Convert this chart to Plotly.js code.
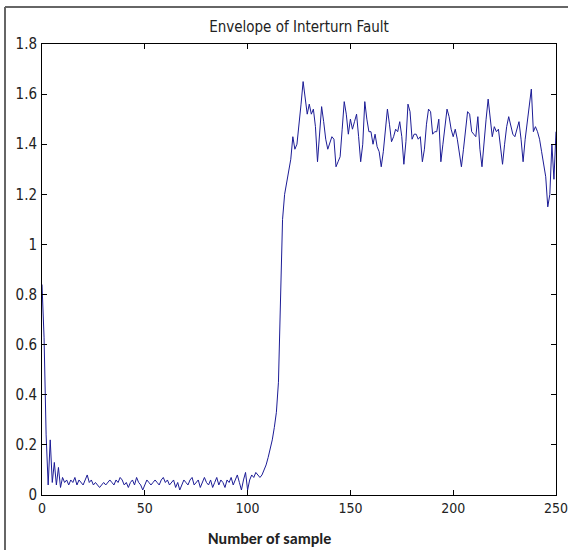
<!DOCTYPE html>
<html>
<head>
<meta charset="utf-8">
<script src="https://cdn.plot.ly/plotly-3.0.1.min.js"></script>
<style>
html,body{margin:0;padding:0;background:#fff;}
#chart{width:568px;height:550px;}
</style>
</head>
<body>
<div id="chart"></div>
<script>
// Envelope values, samples 0..250
const sampleIdx = [];
const envelope = [
  0.84, 0.63, 0.24, 0.04, 0.22, 0.05, 0.13, 0.04, 0.11, 0.03, 0.07,
  0.05, 0.06, 0.04, 0.06, 0.05, 0.07, 0.04, 0.06, 0.05, 0.04, 0.06, 0.08, 0.05, 0.06, 0.04, 0.05, 0.04, 0.03, 0.04, 0.05,
  0.04, 0.05, 0.06, 0.05, 0.04, 0.06, 0.05, 0.07, 0.06, 0.04, 0.05, 0.03, 0.05, 0.06, 0.04, 0.07, 0.05, 0.04, 0.02, 0.04,
  0.06, 0.05, 0.04, 0.05, 0.06, 0.05, 0.04, 0.06, 0.07, 0.05, 0.06, 0.04, 0.05, 0.06, 0.03, 0.05, 0.02, 0.04, 0.06, 0.05,
  0.04, 0.06, 0.07, 0.04, 0.05, 0.06, 0.03, 0.05, 0.07, 0.05, 0.04, 0.06, 0.03, 0.05, 0.07, 0.04, 0.06, 0.05, 0.03, 0.06,
  0.05, 0.07, 0.04, 0.06, 0.08, 0.05, 0.02, 0.06, 0.09, 0.02, 0.06, 0.08, 0.07, 0.09, 0.08,
  0.07, 0.08, 0.10, 0.12, 0.15, 0.18, 0.22, 0.27, 0.33, 0.45, 0.80, 1.10,
  1.20, 1.25, 1.30, 1.34, 1.43, 1.38, 1.40, 1.47, 1.56, 1.65, 1.59, 1.52, 1.56, 1.52, 1.54, 1.47, 1.33, 1.45, 1.55, 1.49,
  1.42, 1.38, 1.41, 1.43, 1.42, 1.31, 1.33, 1.35, 1.46, 1.57, 1.52, 1.44, 1.50, 1.46, 1.49, 1.52, 1.43, 1.33, 1.40, 1.57,
  1.50, 1.45, 1.45, 1.40, 1.44, 1.39, 1.37, 1.31, 1.37, 1.46, 1.54, 1.48, 1.41, 1.43, 1.46, 1.45, 1.49, 1.43, 1.32, 1.41,
  1.56, 1.53, 1.42, 1.44, 1.44, 1.42, 1.43, 1.33, 1.38, 1.48, 1.54, 1.53, 1.44, 1.45, 1.45, 1.50, 1.33, 1.40, 1.47, 1.54,
  1.51, 1.46, 1.43, 1.46, 1.42, 1.36, 1.31, 1.38, 1.46, 1.53, 1.52, 1.45, 1.44, 1.43, 1.51, 1.38, 1.31, 1.42, 1.50, 1.58,
  1.51, 1.43, 1.47, 1.45, 1.46, 1.38, 1.32, 1.40, 1.47, 1.51, 1.47, 1.44, 1.43, 1.46, 1.49, 1.42, 1.33, 1.42, 1.48, 1.55,
  1.62, 1.45, 1.47, 1.45, 1.42, 1.37, 1.31, 1.27, 1.15, 1.20, 1.40, 1.26, 1.45
];
for (let i = 0; i < envelope.length; i++) sampleIdx.push(i);

const xTickVals = [0, 50, 100, 150, 200, 250];
const xTickText = ['0', '50', '100', '150', '200', '250'];
const yTickVals = [0, 0.2, 0.4, 0.6, 0.8, 1, 1.2, 1.4, 1.6, 1.8];
const yTickText = ['0', '0.2', '0.4', '0.6', '0.8', '1', '1.2', '1.4', '1.6', '1.8'];

const chartTitle = 'Envelope of Interturn Fault';
const xLabel = 'Number of sample';

const narrow = '"Liberation Sans Narrow", "DejaVu Sans Condensed", "Arial Narrow", sans-serif';

const trace = {
  x: sampleIdx,
  y: envelope,
  type: 'scatter',
  mode: 'lines',
  line: {color: '#1c1c96', width: 1},
  hoverinfo: 'skip'
};

const axisCommon = {
  showgrid: false,
  zeroline: false,
  showline: true,
  linecolor: '#000',
  linewidth: 1,
  mirror: 'ticks',
  ticks: 'inside',
  ticklen: 5,
  tickwidth: 1,
  tickcolor: '#000',
  ticklabeloverflow: 'allow'
};

const layout = {
  width: 568,
  height: 550,
  margin: {l: 42, r: 12, t: 44, b: 55, pad: 0},
  paper_bgcolor: '#fff',
  plot_bgcolor: '#fff',
  showlegend: false,
  title: {
    text: chartTitle,
    font: {family: narrow, size: 15, color: '#222'},
    x: 0.5, xref: 'paper', xanchor: 'center',
    y: 1 - 27 / 550, yref: 'container', yanchor: 'middle'
  },
  xaxis: Object.assign({}, axisCommon, {
    range: [0, 250],
    tickmode: 'array',
    tickvals: xTickVals,
    ticktext: xTickText,
    ticklabelstandoff: 0,
    tickfont: {family: narrow, size: 14, color: '#222'}
  }),
  yaxis: Object.assign({}, axisCommon, {
    range: [0, 1.8],
    tickmode: 'array',
    tickvals: yTickVals,
    ticktext: yTickText,
    ticklabelstandoff: 1,
    tickfont: {family: narrow, size: 15, color: '#222'}
  }),
  annotations: [{
    text: '<b>' + xLabel + '</b>',
    xref: 'paper', yref: 'paper',
    x: (269 - 42) / 514, y: (495 - 538) / 451,
    xanchor: 'center', yanchor: 'middle',
    showarrow: false,
    font: {family: 'Carlito, Lato, "Open Sans", sans-serif', size: 16, color: '#222'}
  }],
  shapes: [
    {type: 'line', xref: 'paper', yref: 'paper',
     x0: (5 - 42) / 514, x1: (5 - 42) / 514, y0: (495 - 550) / 451, y1: (495 - 7) / 451,
     line: {color: '#666', width: 2}},
    {type: 'line', xref: 'paper', yref: 'paper',
     x0: (5 - 42) / 514, x1: (575 - 42) / 514, y0: (495 - 7) / 451, y1: (495 - 7) / 451,
     line: {color: '#666', width: 2}}
  ]
};

Plotly.newPlot('chart', [trace], layout, {displayModeBar: false, staticPlot: true});
</script>
</body>
</html>
